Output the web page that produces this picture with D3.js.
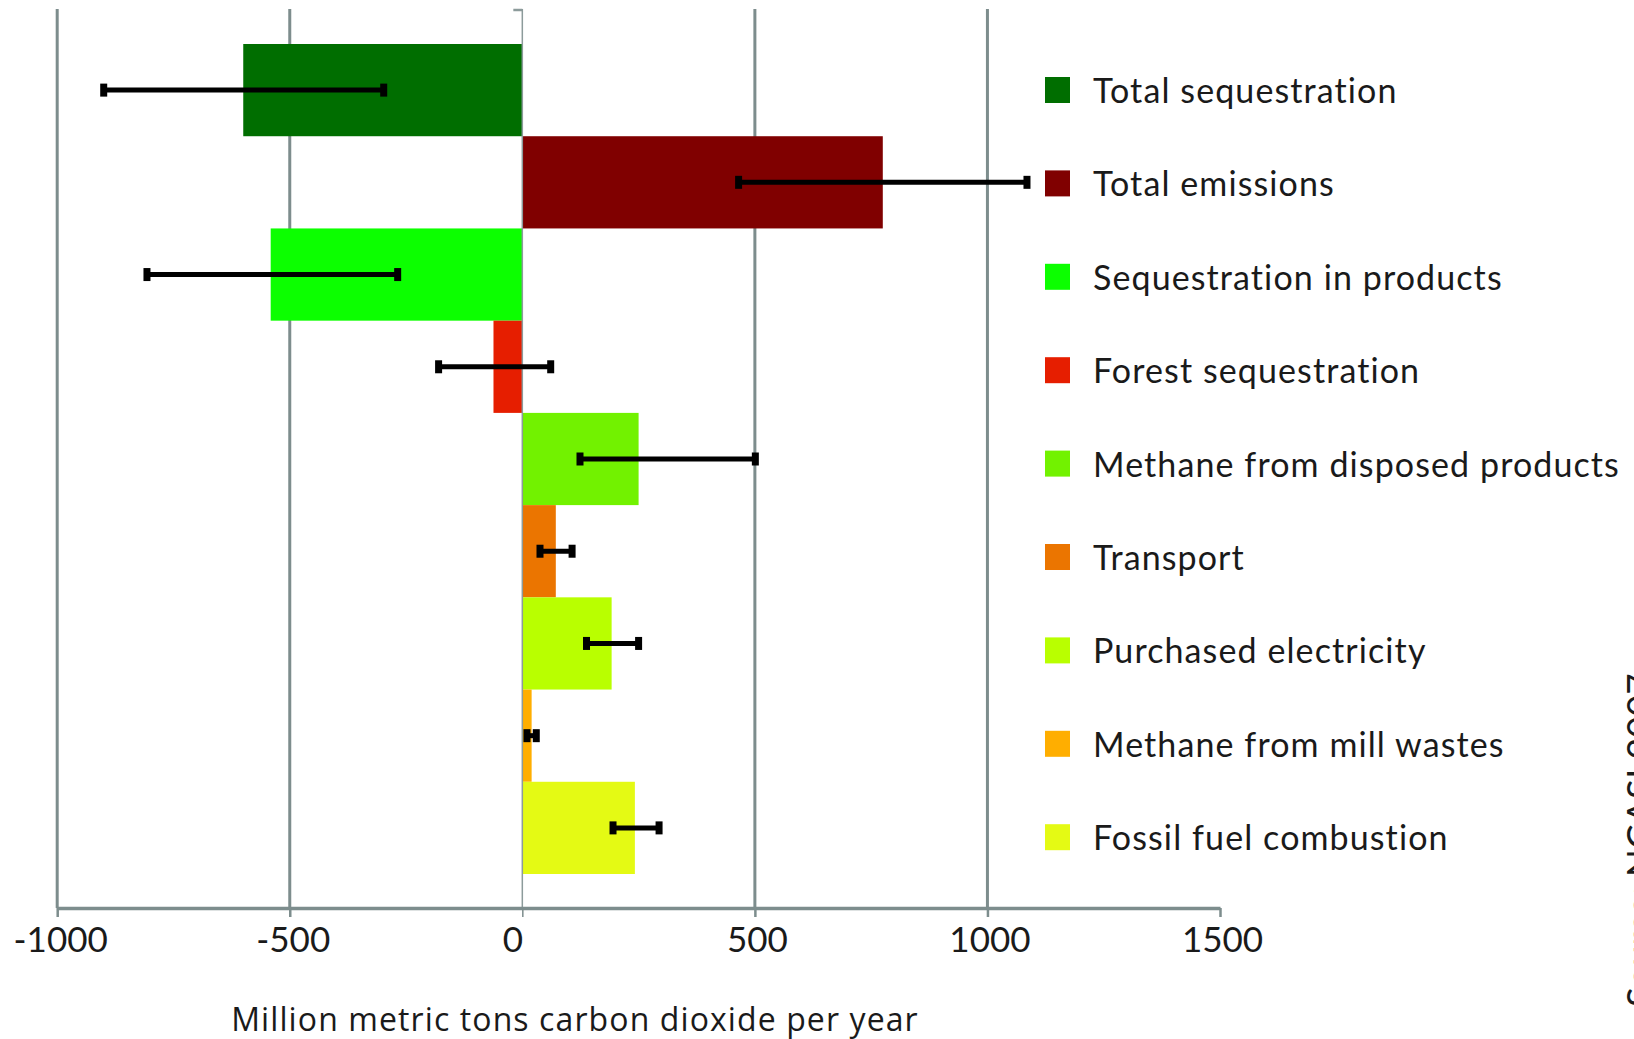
<!DOCTYPE html>
<html>
<head>
<meta charset="utf-8">
<script src="https://cdn.jsdelivr.net/npm/d3@7"></script>
<style>
  html, body { margin: 0; padding: 0; background: #ffffff; }
  svg { display: block; }
  text { font-family: Lato, "Open Sans", sans-serif; fill: #1a1a1a; }
</style>
</head>
<body>
<script>
// Carbon budget of the forest products industry (Mt CO2 per year)
const categories = [
  "Total sequestration",
  "Total emissions",
  "Sequestration in products",
  "Forest sequestration",
  "Methane from disposed products",
  "Transport",
  "Purchased electricity",
  "Methane from mill wastes",
  "Fossil fuel combustion"
];
const values   = [-600, 775, -541, -62, 250, 72, 192, 20, 242];
const errLow   = [-900, 465, -807, -180, 124, 38, 138, 10, 195];
const errHigh  = [-298, 1085, -268, 61, 501, 107, 250, 30, 294];
const colors   = ["#006e00", "#800000", "#0cff00", "#e61e00", "#72f200",
                  "#eb7500", "#b9ff00", "#ffae00", "#e4fa14"];
const xTicks      = [-1000, -500, 0, 500, 1000, 1500];
const xTickLabels = ["-1000", "-500", "0", "500", "1000", "1500"];
const xTitle = "Million metric tons carbon dioxide per year";
const sourceNote = "Source: NCASI 2007";

const W = 1634, H = 1039;
const plotTop = 9, axisY = 908;

const svg = d3.select("body").append("svg")
  .attr("width", W).attr("height", H);

const x = d3.scaleLinear().domain([-1000, 1500]).range([57.2, 1220]);
const y = d3.scaleBand().domain(categories).range([44, 874]).padding(0);

const gridColor = "#7d8d8d";

// vertical gridlines (zero handled separately)
svg.append("g").selectAll("line")
  .data(xTicks.filter(d => d !== 0 && d !== 1500))
  .join("line")
  .attr("x1", d => x(d)).attr("x2", d => x(d))
  .attr("y1", plotTop).attr("y2", axisY)
  .attr("stroke", gridColor).attr("stroke-width", 3);

// bars
svg.append("g").selectAll("rect")
  .data(categories)
  .join("rect")
  .attr("x", (d, i) => Math.min(x(0), x(values[i])))
  .attr("width", (d, i) => Math.abs(x(values[i]) - x(0)))
  .attr("y", d => y(d))
  .attr("height", y.bandwidth())
  .attr("fill", (d, i) => colors[i]);

// zero line with small top tick
const zl = svg.append("g");
zl.append("line")
  .attr("x1", x(0)).attr("x2", x(0))
  .attr("y1", plotTop).attr("y2", axisY)
  .attr("stroke", "#8c9b9b").attr("stroke-width", 1.5);
zl.append("line")
  .attr("x1", x(0) - 9).attr("x2", x(0))
  .attr("y1", plotTop + 1).attr("y2", plotTop + 1)
  .attr("stroke", "#8c9b9b").attr("stroke-width", 2.5);

// error bars
const eb = svg.append("g").selectAll("g")
  .data(categories)
  .join("g")
  .attr("transform", d => `translate(0,${y(d) + y.bandwidth() / 2})`);
eb.append("line")
  .attr("x1", (d, i) => x(errLow[i]))
  .attr("x2", (d, i) => x(errHigh[i]))
  .attr("stroke", "#000").attr("stroke-width", 5);
[errLow, errHigh].forEach(arr => {
  eb.append("rect")
    .attr("x", (d, i) => x(arr[i]) - 3.5)
    .attr("y", -6.5)
    .attr("width", 7).attr("height", 13)
    .attr("fill", "#000");
});

// x axis
const axis = d3.axisBottom(x)
  .tickValues(xTicks)
  .tickSize(9)
  .tickSizeOuter(0)
  .tickFormat((d, i) => xTickLabels[i]);
const gAxis = svg.append("g")
  .attr("transform", `translate(0,${axisY})`)
  .call(axis);
gAxis.select(".domain")
  .attr("stroke", gridColor).attr("stroke-width", 3.5);
gAxis.selectAll(".tick line")
  .attr("stroke", gridColor)
  .attr("stroke-width", d => d === 0 ? 1.5 : 2.5);
gAxis.selectAll(".tick text")
  .attr("y", 44)
  .attr("dy", 0)
  .attr("dx", d => d === 0 ? -10 : (d < 0 ? 3 : 2))
  .style("font-family", "Lato, sans-serif")
  .style("font-size", "35px")
  .attr("fill", "#1a1a1a");

// axis title
svg.append("text")
  .attr("x", 575).attr("y", 1031)
  .attr("text-anchor", "middle")
  .style("font-family", "'Open Sans', sans-serif")
  .style("font-size", "32px")
  .style("letter-spacing", "1.1px")
  .text(xTitle);

// legend
const leg = svg.append("g").selectAll("g")
  .data(categories)
  .join("g")
  .attr("transform", (d, i) => `translate(1045,${90 + i * 93.4})`);
leg.append("rect")
  .attr("x", 0).attr("y", -13)
  .attr("width", 25).attr("height", 26)
  .attr("fill", (d, i) => colors[i]);
leg.append("text")
  .attr("x", 48).attr("y", 13)
  .style("font-size", "34px")
  .style("letter-spacing", "1.1px")
  .text(d => d);

// source note, rotated along the right edge
svg.append("text")
  .attr("transform", "translate(1653,1007) rotate(-90)")
  .style("font-size", "37px")
  .attr("fill", "#555")
  .text(sourceNote);
</script>
</body>
</html>
